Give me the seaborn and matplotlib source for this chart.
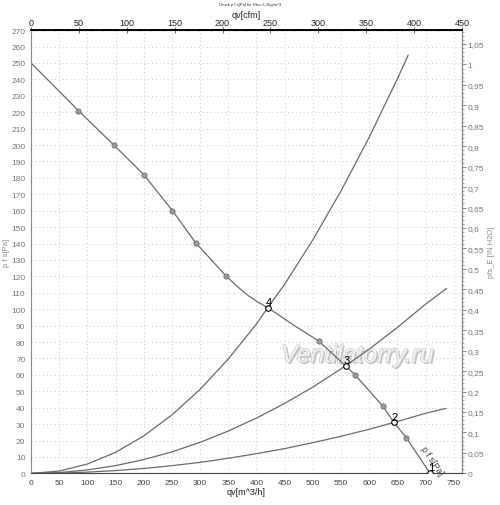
import matplotlib
matplotlib.use("Agg")
import matplotlib.pyplot as plt
import matplotlib.patheffects as pe
from matplotlib.ticker import MultipleLocator, FuncFormatter
import pandas as pd
import seaborn as sns

# Kennlinie des Ventilators (m^3/h, Pa)
FAN_Q = [0, 84, 147, 200, 251, 292, 319, 346, 366, 384, 402, 420, 465, 510, 558, 575, 624, 644, 666, 708]
FAN_P = [250, 221, 200, 182, 160, 140.5, 130.4, 120.2, 113.8, 108.6, 104.4, 101, 90.5, 80.7, 65.5, 60, 41, 31, 21.6, 0]
# Messpunkte (grau) auf der Kennlinie
MEAS_Q = [84, 147, 200, 251, 292, 346, 510, 575, 624, 666]
MEAS_P = [221, 200, 182, 160, 140.5, 120.2, 80.7, 60, 41, 21.6]
# Betriebspunkte 1..4
OP_LABELS = ["1", "2", "3", "4"]
OP_Q = [708, 644, 558, 420]
OP_P = [0.5, 31, 65.5, 101]

# Anlagenkennlinien
SYS4_Q = [0, 50, 100, 150, 200, 250, 300, 350, 400, 420, 450, 500, 550, 600, 650, 669]
SYS4_P = [0, 1.4, 5.7, 12.8, 22.8, 35.6, 51.2, 69.7, 91.0, 101, 115.2, 142.3, 172.1, 204.8, 240.4, 254.7]
SYS3_Q = [0, 50, 100, 150, 200, 250, 300, 350, 400, 450, 500, 550, 558, 600, 650, 700, 737]
SYS3_P = [0, 0.5, 2.1, 4.7, 8.4, 13.1, 18.9, 25.8, 33.7, 42.6, 52.6, 63.7, 65.5, 75.7, 88.9, 103.1, 112.6]
SYS2_Q = [0, 50, 100, 150, 200, 250, 300, 350, 400, 450, 500, 550, 600, 644, 700, 736]
SYS2_P = [0, 0.2, 0.75, 1.7, 3.0, 4.7, 6.7, 9.2, 12.0, 15.1, 18.7, 22.6, 26.9, 31.0, 36.6, 39.6]

M3H_PER_CFM = 1.699
PA_PER_INH2O = 249.09
LINE = "#6a6a6a"

sns.set_style("white")
plt.rcParams["font.family"] = ["Liberation Sans", "DejaVu Sans"]

fig = plt.figure(figsize=(5, 5.06), dpi=100)
ax = fig.add_axes([0.062, 0.0625, 0.862, 0.876])

ax.text(579, 72, "Ventilatorry.ru", fontsize=18, style="italic",
        color="#f4f4f4", ha="center", va="center", zorder=0.5,
        path_effects=[pe.withSimplePatchShadow(offset=(1.2, -1.2), shadow_rgbFace="#9a9a9a", alpha=0.6),
                      pe.withStroke(linewidth=0.8, foreground="#c4c4c4")])

for q, p in [(SYS4_Q, SYS4_P), (SYS3_Q, SYS3_P), (SYS2_Q, SYS2_P), (FAN_Q, FAN_P)]:
    sns.lineplot(x=q, y=p, ax=ax, color=LINE, lw=0.9, sort=False, estimator=None)

sns.scatterplot(x=MEAS_Q, y=MEAS_P, ax=ax, s=14, color="#9a9a9a",
                edgecolor="#707070", linewidth=0.6, zorder=4)
sns.scatterplot(x=OP_Q, y=OP_P, ax=ax, s=16, color="white",
                edgecolor="black", linewidth=0.8, zorder=5)
ops = pd.DataFrame({"label": OP_LABELS, "q": OP_Q, "p": OP_P})
for _, r in ops.iterrows():
    ax.annotate(r["label"], (r["q"], r["p"]), xytext=(0.5, 0.5),
                textcoords="offset points", ha="center", va="bottom",
                fontsize=8, color="black", zorder=6)

ax.text(712, 8, "p f s[Pa]", rotation=-56, fontsize=6.5, color="#444444",
        ha="center", va="center", clip_on=False)

ax.set_xlim(0, 450 * M3H_PER_CFM)
ax.set_ylim(0, 270)
ax.xaxis.set_major_locator(MultipleLocator(50))
ax.yaxis.set_major_locator(MultipleLocator(10))
ax.yaxis.set_minor_locator(MultipleLocator(2))
ax.xaxis.set_minor_locator(MultipleLocator(10))
ax.grid(True, which="major", color="#c8c8c8", lw=0.7, ls=(0, (1, 3)))
ax.tick_params(axis="both", which="major", length=3, width=0.6, labelsize=6,
               colors="#666666", labelcolor="#444444", pad=1)
ax.tick_params(axis="both", which="minor", length=1.5, width=0.5, colors="#888888")
ax.tick_params(axis="y", labelcolor="#777777")
for side in ["left", "right"]:
    ax.spines[side].set_color("#888888")
    ax.spines[side].set_linewidth(0.8)
ax.spines["bottom"].set_color("#444444")
ax.spines["top"].set_color("black")
ax.spines["top"].set_linewidth(1.4)

ax.set_xlabel("qv[m^3/h]", fontsize=6.5, color="#222222", labelpad=1)
ax.set_ylabel("p f s[Pa]", fontsize=5.5, color="#888888", labelpad=1)

top = ax.secondary_xaxis("top", functions=(lambda q: q / M3H_PER_CFM,
                                           lambda c: c * M3H_PER_CFM))
top.xaxis.set_major_locator(MultipleLocator(50))
top.xaxis.set_minor_locator(MultipleLocator(12.5))
top.tick_params(which="major", direction="inout", length=4, width=0.6, labelsize=6.5,
                colors="#555555", labelcolor="#222222", pad=0)
top.tick_params(which="minor", direction="inout", length=2, width=0.5, colors="#888888")

right = ax.secondary_yaxis("right", functions=(lambda p: p / PA_PER_INH2O,
                                               lambda w: w * PA_PER_INH2O))
right.yaxis.set_major_locator(MultipleLocator(0.05))
right.yaxis.set_minor_locator(MultipleLocator(0.01))
right.yaxis.set_major_formatter(FuncFormatter(lambda v, _: f"{v:.2f}".rstrip("0").rstrip(".").replace(".", ",")))
right.tick_params(which="major", length=3, width=0.6, labelsize=6, colors="#777777",
                  labelcolor="#777777", pad=1)
right.tick_params(which="minor", length=1.5, width=0.5, colors="#888888")
right.set_ylabel("pfs_E [IN H2O]", fontsize=5.5, color="#888888", labelpad=3)

fig.text(0.493, 1 - 15 / 506, "qv[cfm]", fontsize=6.5, ha="center", va="center",
         color="#222222")
fig.text(0.5, 1 - 5 / 506, "Druck p f s[Pa] für Rho=1,2kg/m^3", fontsize=3,
         ha="center", va="center", color="#333333")

fig.savefig("out.png", dpi=100)
